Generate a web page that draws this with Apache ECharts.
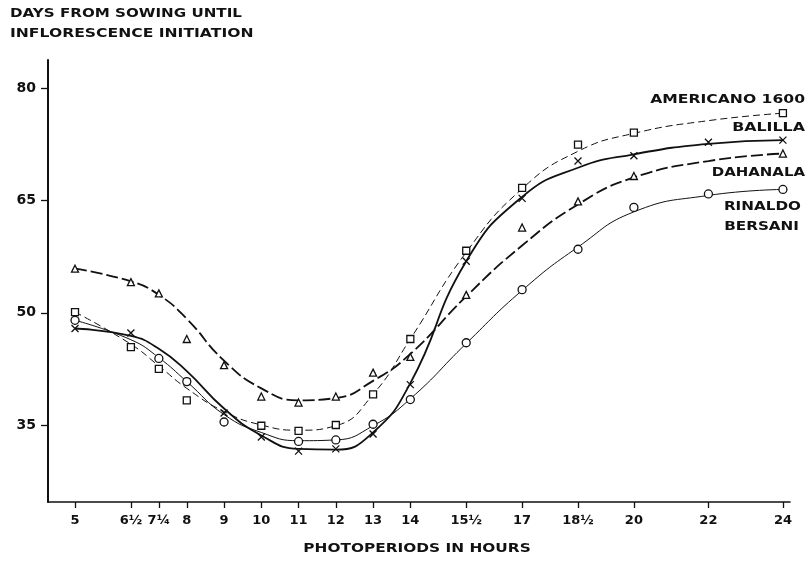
<!DOCTYPE html>
<html>
<head>
<meta charset="utf-8">
<script src="https://cdn.jsdelivr.net/npm/echarts@6/dist/echarts.min.js"></script>
<style>
html,body{margin:0;padding:0;background:#fff;}
#chart{width:810px;height:570px;}
</style>
</head>
<body>
<div id="chart"></div>
<script>
// Photoperiods (hours) and their tick labels
const hours = [5, 6.5, 7.25, 8, 9, 10, 11, 12, 13, 14, 15.5, 17, 18.5, 20, 22, 24];
const xTickLabels = ['5', '6½', '7¼', '8', '9', '10', '11', '12', '13', '14', '15½', '17', '18½', '20', '22', '24'];
const yTicks = [35, 50, 65, 80];

// Observed points (days from sowing until inflorescence initiation); null = no marker visible
const americanoObs = [50.1, 45.4, 42.5, 38.3, null, 34.9, 34.2, 35.0, 39.1, 46.5, 58.3, 66.7, 72.5, 74.1, null, 76.7];
const balillaObs   = [47.9, 47.3, null, 40.8, 36.6, 33.4, 31.5, 31.8, 33.8, 40.4, 56.9, 65.3, 70.3, 71.0, 72.8, 73.1];
const dahanalaObs  = [55.9, 54.1, 52.6, 46.5, 43.0, 38.8, 38.0, 38.8, 42.0, 44.1, 52.4, 61.4, 64.9, 68.3, null, 71.3];
const rinaldoObs   = [49.0, null, 43.9, 40.8, 35.4, null, 32.8, 33.0, 35.1, 38.4, 46.0, 53.1, 58.5, 64.1, 65.9, 66.5];

// Fitted (hand-drawn) curves
const americanoFit = [50.1, 45.8, 42.9, 39.9, 36.8, 35.0, 34.3, 34.9, 39.1, 46.5, 58.1, 66.6, 71.6, 74.0, 75.7, 76.7];
const balillaFit   = [47.9, 46.9, 45.2, 42.2, 37.2, 33.6, 31.8, 31.7, 34.0, 40.6, 56.9, 65.5, 69.4, 71.2, 72.6, 73.1];
const dahanalaFit  = [55.9, 54.2, 52.4, 49.2, 43.6, 39.9, 38.3, 38.6, 40.9, 44.5, 52.2, 59.0, 64.5, 68.1, 70.3, 71.3];
const rinaldoFit   = [49.0, 46.4, 44.0, 40.8, 36.4, 34.0, 32.9, 33.0, 34.9, 38.5, 45.9, 53.0, 58.8, 63.5, 65.7, 66.5];

const varietyNames = ['AMERICANO 1600', 'BALILLA', 'DAHANALA', 'RINALDO', 'BERSANI'];

const ink = '#111';
const pairs = arr => hours.map((h, i) => [h, arr[i]]).filter(p => p[1] != null);

function fitLine(name, arr, width, dash) {
  return {
    name: name, type: 'line', data: pairs(arr), smooth: 0.5,
    showSymbol: false, symbol: 'none', silent: true, z: 2,
    lineStyle: { color: ink, width: width, type: dash || 'solid' }
  };
}
function obsPoints(name, arr, symbol, size) {
  return {
    name: name, type: 'scatter', data: pairs(arr), symbol: symbol, symbolSize: size, z: 3,
    itemStyle: { color: '#fff', borderColor: ink, borderWidth: 1.3, opacity: 1 }
  };
}

const chart = echarts.init(document.getElementById('chart'), null, { renderer: 'canvas' });
const txt = (text, x, y, align, size, sx) => ({
  type: 'text', x: x, y: y, scaleX: sx, scaleY: 1, silent: true,
  style: { text: text, fill: ink, font: 'bold ' + size + 'px "DejaVu Sans"', textAlign: align, textVerticalAlign: 'middle' }
});

chart.setOption({
  animation: false,
  backgroundColor: '#fff',
  grid: { left: 48, right: 20, top: 60, bottom: 68, containLabel: false },
  xAxis: {
    type: 'value', min: 4.275, max: 24.19,
    splitLine: { show: false },
    axisLine: { onZero: false, lineStyle: { color: ink, width: 1.6 } },
    axisTick: { show: true, customValues: hours, length: 6, lineStyle: { color: ink, width: 1.3 } },
    axisLabel: {
      customValues: hours, margin: 12, color: ink, fontFamily: 'DejaVu Sans', fontWeight: 'bold', fontSize: 13,
      formatter: v => { const i = hours.indexOf(v); return i >= 0 ? xTickLabels[i] : ''; }
    }
  },
  yAxis: {
    type: 'value', min: 24.7, max: 83.81,
    splitLine: { show: false },
    axisLine: { show: true, onZero: false, lineStyle: { color: ink, width: 2 } },
    axisTick: { show: true, customValues: yTicks, length: 7, lineStyle: { color: ink, width: 1.3 } },
    axisLabel: { customValues: yTicks, margin: 12, color: ink, fontFamily: 'DejaVu Sans', fontWeight: 'bold', fontSize: 14 }
  },
  graphic: [
    txt('DAYS FROM SOWING UNTIL', 10, 14, 'left', 12, 1.26),
    txt('INFLORESCENCE INITIATION', 10, 34, 'left', 12, 1.3),
    txt(varietyNames[0], 805, 100, 'right', 13, 1.2),
    txt(varietyNames[1], 805, 128, 'right', 13, 1.22),
    txt(varietyNames[2], 805, 173, 'right', 13, 1.15),
    txt(varietyNames[3], 801, 207, 'right', 13, 1.17),
    txt(varietyNames[4], 799, 227, 'right', 13, 1.17),
    txt('PHOTOPERIODS IN HOURS', 417, 549, 'center', 12, 1.28)
  ],
  series: [
    fitLine('AMERICANO 1600', americanoFit, 1, [7, 4]),
    fitLine('BALILLA', balillaFit, 1.8),
    fitLine('DAHANALA', dahanalaFit, 1.8, [12, 4]),
    fitLine('RINALDO BERSANI', rinaldoFit, 1),
    obsPoints('AMERICANO 1600', americanoObs, 'rect', 7),
    obsPoints('BALILLA', balillaObs, 'path://M0,0L10,10M10,0L0,10', 7),
    obsPoints('DAHANALA', dahanalaObs, 'triangle', 7),
    obsPoints('RINALDO BERSANI', rinaldoObs, 'circle', 8)
  ]
});
</script>
</body>
</html>
